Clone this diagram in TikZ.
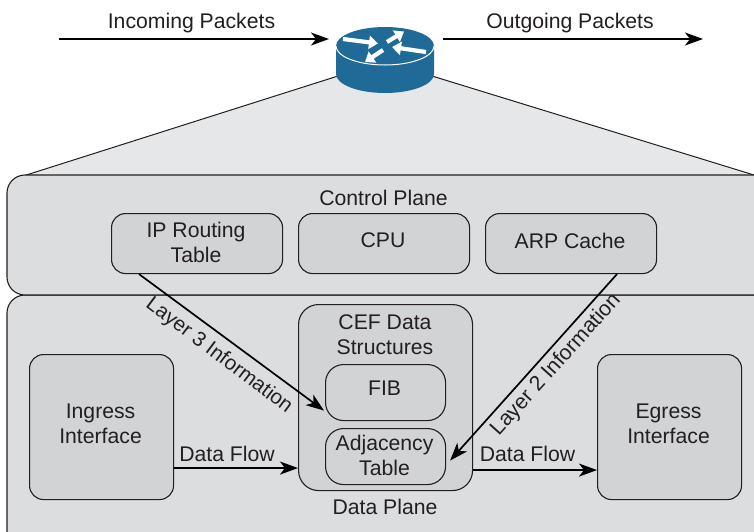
\documentclass[tikz,border=0pt]{standalone}
\usepackage{fontspec}
\setmainfont{Liberation Sans}
\usetikzlibrary{arrows.meta,calc}
\definecolor{ink}{HTML}{231F20}
\definecolor{cone}{HTML}{E6E7E9}
\definecolor{plane}{HTML}{DCDDDF}
\definecolor{box}{HTML}{D1D3D4}
\definecolor{routerblue}{HTML}{1F6A96}
\tikzset{
  lbl/.style={text=ink,font=\fontsize{21.2}{25}\selectfont,align=center,inner sep=0pt},
  planebox/.style={draw=ink,line width=1.1pt,fill=plane,rounded corners=18pt},
  inner box/.style={draw=ink,line width=1.1pt,fill=box,rounded corners=14pt,anchor=north west},
  flow/.style={draw=black,line width=1.7pt,-{Stealth[length=18pt,width=13pt,inset=5pt]}},
  mini/.style={draw=white,line width=4.2pt,-{Triangle[length=9pt,width=13pt]}}
}
\begin{document}
\begin{tikzpicture}[x=1pt,y=-1pt]
\useasboundingbox (0,0) rectangle (754,531);
\fill[white] (0,0) rectangle (754,531);
% cone
\draw[draw=ink,line width=1pt,fill=cone] (338,76) -- (20,177) -- (754,177) -- (754,175) -- (432,76) -- cycle;
% planes
\draw[planebox] (7,295) rectangle (775,550);
\draw[planebox] (7,175) rectangle (775,295);
% router
\fill[routerblue] (336,46) -- (336,74) arc[start angle=180,end angle=0,x radius=49,y radius=19] -- (434,46) -- cycle;
\fill[routerblue] (385,46) ellipse[x radius=49,y radius=19];
\draw[white,line width=1pt] (336,46) arc[start angle=180,end angle=0,x radius=49,y radius=19];
\coordinate (m1a) at (343,39); \coordinate (m1b) at (378,43.5);
\coordinate (m2a) at (387,42); \coordinate (m2b) at (404,31.5);
\coordinate (m3a) at (426,52); \coordinate (m3b) at (392,47);
\coordinate (m4a) at (383,50); \coordinate (m4b) at (365,62);
\draw[mini] (m1a) -- (m1b);
\draw[mini] (m2a) -- (m2b);
\draw[mini] (m3a) -- (m3b);
\draw[mini] (m4a) -- (m4b);
\coordinate (routerin) at (329,39);
\coordinate (routerout) at (443,39);
\coordinate (farin) at (59,39);
\coordinate (farout) at (703,39);
\draw[flow] (farin) -- (routerin);
\draw[flow] (routerout) -- (farout);
\node[lbl] (tin) at (191.5,23) {Incoming Packets};
\node[lbl] (tout) at (570,23) {Outgoing Packets};
% control plane
\node[lbl] (tcp) at (383.5,198) {Control Plane};
\node[inner box,minimum width=171pt,minimum height=60pt,label={[lbl,yshift=1pt,xshift=-1pt]center:{IP Routing\\Table}}] (ipr) at (111,213) {};
\node[inner box,minimum width=171pt,minimum height=60pt,label={[lbl,yshift=3pt,xshift=-1pt]center:CPU}] (cpu) at (298,213) {};
\node[inner box,minimum width=171pt,minimum height=60pt,label={[lbl,yshift=3pt,xshift=-1pt]center:ARP Cache}] (arp) at (485,213) {};
% data plane
\node[inner box,minimum width=144pt,minimum height=145pt,label={[lbl,yshift=3pt,xshift=-1pt]center:{Ingress\\Interface}}] (ing) at (29,354) {};
\node[inner box,minimum width=144pt,minimum height=145pt,label={[lbl,yshift=3pt,xshift=-1pt]center:{Egress\\Interface}}] (egr) at (597,354) {};
\node[inner box,minimum width=174pt,minimum height=186pt,rounded corners=20pt] (cef) at (298,304) {};
\node[lbl] (tcef) at (385,335) {CEF Data\\Structures};
\node[inner box,minimum width=120pt,minimum height=56pt,rounded corners=18pt,label={[lbl,yshift=4pt,xshift=-1pt]center:FIB}] (fib) at (325,364) {};
\node[inner box,minimum width=120pt,minimum height=56pt,rounded corners=18pt,label={[lbl,yshift=1pt,xshift=-1pt]center:{Adjacency\\Table}}] (adj) at (325,428) {};
\node[lbl] (tdp) at (385,507) {Data Plane};
% arrows
\draw[flow] ($(ipr.south west)+(28,0)$) -- ($(fib.west)+(-1,18)$);
\draw[flow] ($(arp.south west)+(132,0)$) -- ($(adj.east)+(4,4)$);
\draw[flow] ($(ing.east)+(0,41)$) -- ($(cef.west)+(0,70.5)$);
\draw[flow] ($(cef.east)+(0,72.5)$) -- ($(egr.west)+(0,43)$);
% labels
\node[lbl,rotate=-37,font=\fontsize{20.6}{25}\selectfont] (l3) at (219,356) {Layer 3 Information};
\node[lbl,rotate=48] (l2) at (556,365) {Layer 2 Information};
\node[lbl] (df1) at (227,454) {Data Flow};
\node[lbl] (df2) at (527.5,454) {Data Flow};
\end{tikzpicture}
\end{document}
